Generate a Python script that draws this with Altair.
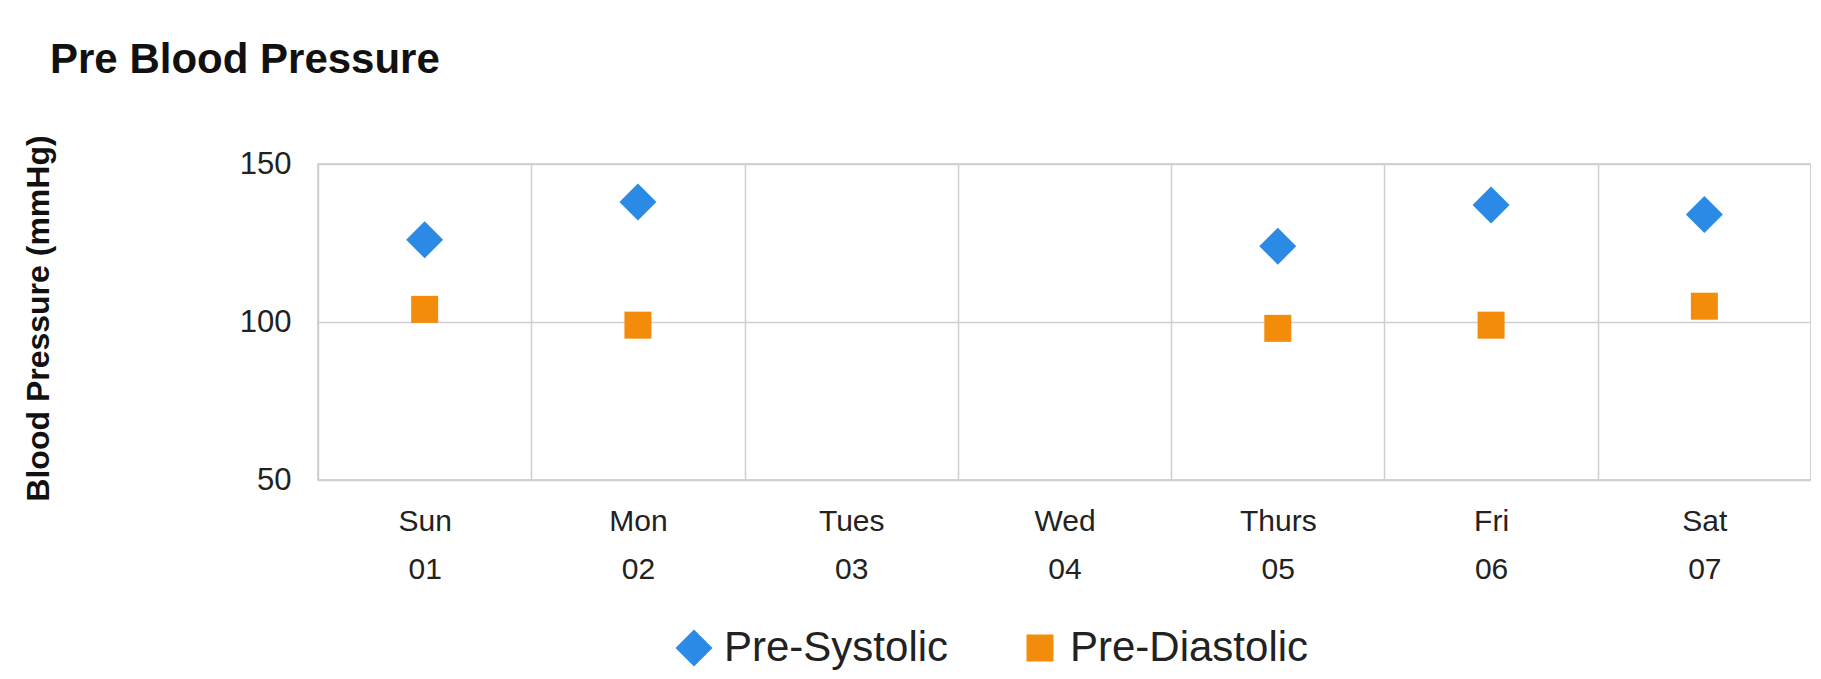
import altair as alt
import pandas as pd

days = ["Sun", "Mon", "Tues", "Wed", "Thurs", "Fri", "Sat"]
dates = ["01", "02", "03", "04", "05", "06", "07"]
systolic = [126, 138, None, None, 124, 137, 134]
diastolic = [104, 99, None, None, 98, 99, 105]
series_names = ["Pre-Systolic", "Pre-Diastolic"]
series_colors = ["#2a8ae6", "#f28c0a"]
series_shapes = ["diamond", "square"]
series_sizes = [1369, 729]

labels = [f"{d} {n}" for d, n in zip(days, dates)]
rows = []
for lab, s, d in zip(labels, systolic, diastolic):
    if s is not None:
        rows.append({"day": lab, "series": series_names[0], "value": s})
    if d is not None:
        rows.append({"day": lab, "series": series_names[1], "value": d})
df = pd.DataFrame(rows)

FONT = "Liberation Sans"

chart = alt.Chart(df).mark_point(filled=True, opacity=1).encode(
    x=alt.X(
        "day:N",
        sort=labels,
        scale=alt.Scale(domain=labels, paddingInner=0, paddingOuter=0),
        axis=alt.Axis(
            title=None,
            labelAngle=0,
            labelExpr="split(datum.label, ' ')",
            labelFontSize=30,
            labelLineHeight=48,
            labelPadding=26,
            labelColor="#222222",
            labelFont=FONT,
            labelBaseline="top",
            domain=False,
            ticks=False,
            grid=True,
            tickBand="extent",
            gridColor="#cfcfcf",
            gridWidth=1.5,
        ),
    ),
    y=alt.Y(
        "value:Q",
        scale=alt.Scale(domain=[50, 150], nice=False, zero=False),
        axis=alt.Axis(
            title="Blood Pressure (mmHg)",
            values=[50, 100, 150],
            labelFontSize=31,
            labelFont=FONT,
            labelColor="#222222",
            labelPadding=27,
            domain=False,
            ticks=False,
            grid=True,
            gridColor="#cfcfcf",
            gridWidth=1.5,
            titleFont=FONT,
            titleFontSize=32,
            titleFontWeight="bold",
            titleColor="#111111",
            titleAngle=270,
            titleX=-280,
            titleY=154,
            titleAlign="center",
            titleBaseline="middle",
        ),
    ),
    color=alt.Color(
        "series:N",
        scale=alt.Scale(domain=series_names, range=series_colors),
        legend=alt.Legend(
            title=None,
            orient="none",
            direction="horizontal",
            legendX=355,
            legendY=463,
            labelFont=FONT,
            labelFontSize=42,
            labelColor="#222222",
            labelOffset=9,
            labelLimit=600,
            columnPadding=70,
            padding=0,
            symbolStrokeWidth=0,
            symbolOpacity=1,
        ),
    ),
    shape=alt.Shape(
        "series:N",
        scale=alt.Scale(domain=series_names, range=series_shapes),
    ),
    size=alt.Size(
        "series:N",
        scale=alt.Scale(domain=series_names, range=series_sizes),
    ),
).properties(
    width=1493,
    height=316,
    title=alt.TitleParams(
        "Pre Blood Pressure",
        anchor="start",
        frame="group",
        font=FONT,
        fontSize=42,
        fontWeight="bold",
        color="#111111",
        dx=-268,
        offset=20,
        baseline="alphabetic",
    ),
    autosize=alt.AutoSizeParams(type="none"),
    padding={"left": 310, "top": 156, "right": 0, "bottom": 190},
).configure_view(
    stroke="#c8c8c8", strokeWidth=1.5
)

chart.save("out.html", embed_options={"renderer": "svg", "actions": False})
